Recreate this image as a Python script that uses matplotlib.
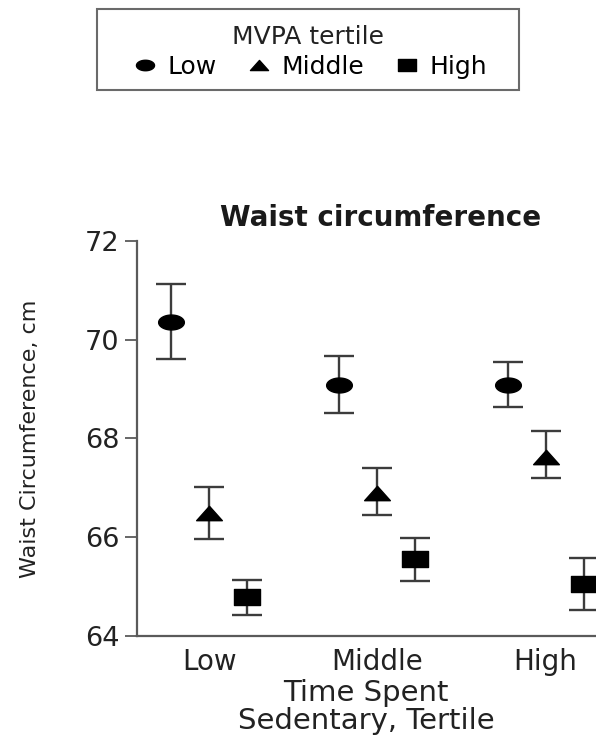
import numpy as np
import matplotlib
matplotlib.use("Agg")
import matplotlib.pyplot as plt
from matplotlib.path import Path
from matplotlib.lines import Line2D
from matplotlib.patches import Rectangle

# sedentary-time tertiles on the x axis, MVPA tertiles as series
categories = ["Low", "Middle", "High"]
mvpa_levels = ["Low", "Middle", "High"]

# mean waist circumference (cm) and error bar ends
low_mean = [70.35, 69.09, 69.09]
low_upper = [71.13, 69.67, 69.54]
low_lower = [69.60, 68.52, 68.63]

mid_mean = [66.48, 66.90, 67.63]
mid_upper = [67.01, 67.40, 68.14]
mid_lower = [65.97, 66.45, 67.19]

high_mean = [64.79, 65.55, 65.05]
high_upper = [65.13, 65.99, 65.57]
high_lower = [64.42, 65.11, 64.52]

plt.rcParams['font.family'] = ['DejaVu Sans']

# the original is squashed horizontally, so markers are wide and flat
t = np.linspace(0, 2 * np.pi, 60)
ellipse = Path(np.column_stack([np.cos(t), 0.58 * np.sin(t)]), closed=True)
triangle = Path([(-1, -0.56), (1, -0.56), (0, 0.56), (-1, -0.56)], closed=True)
rect = Path([(-1, -0.62), (1, -0.62), (1, 0.62), (-1, 0.62), (-1, -0.62)], closed=True)
markers = [ellipse, triangle, rect]

fig = plt.figure(figsize=(5.96, 7.38), dpi=100)
ax = fig.add_axes([0.2294, 0.1386, 0.7706, 0.5348])

x = np.arange(len(categories))
offsets = [-0.226, 0.0, 0.226]
series = [(low_mean, low_lower, low_upper),
          (mid_mean, mid_lower, mid_upper),
          (high_mean, high_lower, high_upper)]

for (mean, lo, hi), off, mk in zip(series, offsets, markers):
    mean = np.array(mean)
    yerr = [mean - np.array(lo), np.array(hi) - mean]
    ax.errorbar(x + off, mean, yerr=yerr, fmt='none', ecolor='#3c3c3c',
                elinewidth=1.7, capsize=11, capthick=1.7, clip_on=False, zorder=2)
    ax.plot(x + off, mean, linestyle='none', marker=mk, markersize=18.5,
            color='black', clip_on=False, zorder=3)

ax.set_xlim(-0.43, 2.30)
ax.set_ylim(64, 72)
ax.set_yticks([64, 66, 68, 70, 72])
ax.set_xticks(x)
ax.set_xticklabels(categories)

for side in ['top', 'right']:
    ax.spines[side].set_visible(False)
for side in ['left', 'bottom']:
    ax.spines[side].set_color('#5a5a5a')
    ax.spines[side].set_linewidth(1.6)

ax.tick_params(axis='y', length=8.5, width=1.3, color='#5a5a5a',
               labelsize=19.5, labelcolor='#222222', pad=4)
ax.tick_params(axis='x', length=0, labelsize=20, labelcolor='#222222', pad=9)

ax.set_title('Waist circumference', fontsize=20, fontweight='bold',
             color='#1a1a1a', x=0.53, pad=11)
ax.set_ylabel('Waist Circumference, cm', fontsize=16, color='#222222')
ax.yaxis.set_label_coords(-0.21, 0.5)
ax.set_xlabel('Time Spent\nSedentary, Tertile', fontsize=21, color='#222222',
              linespacing=1.0, labelpad=2)

# legend on top: frame, title and entries placed separately
fig.patches.append(Rectangle((97 / 596, 1 - 90 / 738), 422 / 596, 81 / 738,
                             transform=fig.transFigure, fill=False,
                             edgecolor='#6a6a6a', linewidth=1.5))
fig.text(308 / 596, 1 - 37 / 738, 'MVPA tertile', fontsize=18, color='#222222',
         ha='center', va='center')
handles = [Line2D([], [], linestyle='none', marker=mk, markersize=13, color='black')
           for mk in markers]
leg = fig.legend(handles, mvpa_levels, ncol=3, loc='center',
                 bbox_to_anchor=(310 / 596, 1 - 67 / 738),
                 fontsize=18, frameon=False,
                 handlelength=1.0, handletextpad=0.4, columnspacing=1.2,
                 borderpad=0, borderaxespad=0)

fig.savefig('out.png', dpi=100)
